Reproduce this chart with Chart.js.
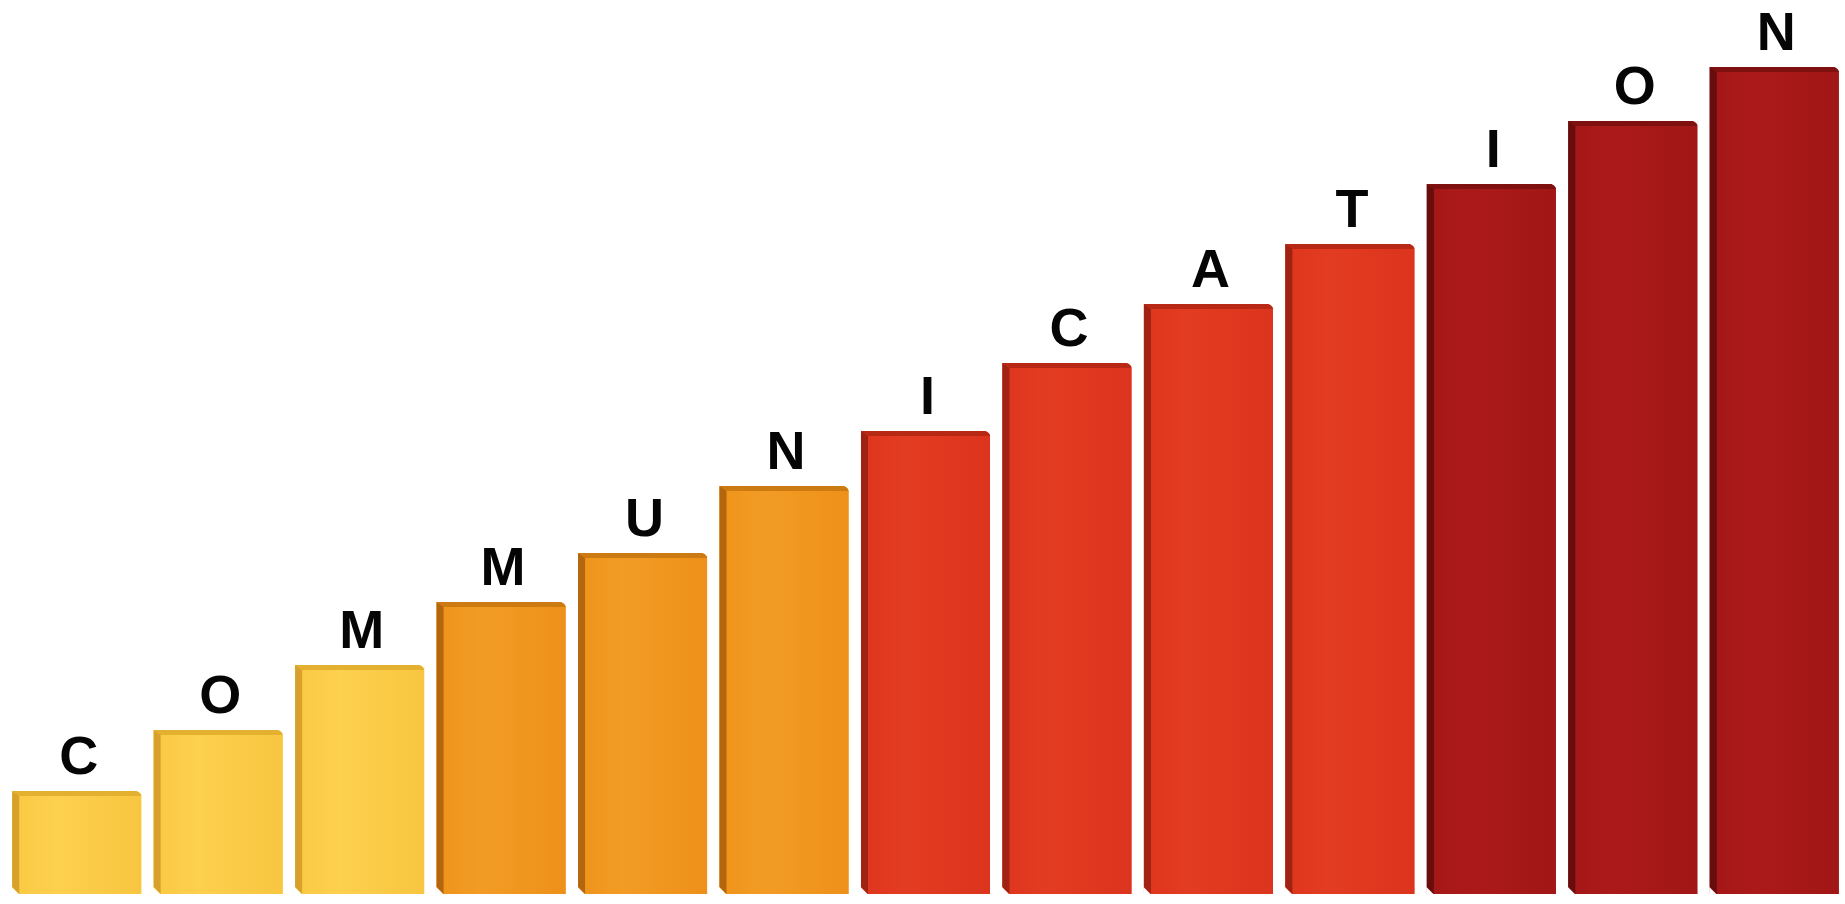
<!DOCTYPE html>
<html>
<head>
<meta charset="utf-8">
<script src="https://cdn.jsdelivr.net/npm/chart.js@4"></script>
<style>
  html, body { margin: 0; padding: 0; background: #ffffff; }
  #wrap { width: 1845px; height: 904px; position: relative; }
</style>
</head>
<body>
<div id="wrap"><canvas id="c" width="1845" height="904"></canvas></div>
<script>
// ---- data ----
const letters = ['C','O','M','M','U','N','I','C','A','T','I','O','N'];
const values  = [103, 164, 229, 292, 341, 408, 463, 531, 590, 650, 710, 773, 827];
const axisMax = 894;

// ---- styles (per colour group) ----
const groupOfBar = [0,0,0,1,1,1,2,2,2,2,3,3,3];
const faceLeft  = ['#FAC943', '#EF931A', '#DE361E', '#A41717'];
const faceMid   = ['#FDD04D', '#F29C25', '#E23C22', '#AB1A19'];
const faceRight = ['#F8C640', '#EE9019', '#DC341D', '#A11616'];
const topEdge   = ['#E4B030', '#CC7A12', '#B82915', '#7E1010'];
const sideEdge  = ['#D8A12B', '#B3660E', '#A02212', '#680D0D'];

const barColors = groupOfBar.map(g => faceMid[g]);

const bevelPlugin = {
  id: 'bevel',
  afterDatasetsDraw(chart) {
    const c = chart.ctx;
    const meta = chart.getDatasetMeta(0);
    meta.data.forEach((el, i) => {
      const g = groupOfBar[i];
      const l = el.x - el.width / 2, r = el.x + el.width / 2;
      const t = el.y, b = el.base;
      if (![l, r, t, b].every(Number.isFinite)) return;
      const s = 7, h = 5;
      c.save();
      // face gradient
      const grad = c.createLinearGradient(l, 0, r, 0);
      grad.addColorStop(0, faceLeft[g]);
      grad.addColorStop(0.35, faceMid[g]);
      grad.addColorStop(1, faceRight[g]);
      c.fillStyle = grad;
      c.fillRect(l, t, r - l, b - t);
      // top strip
      c.fillStyle = topEdge[g];
      c.beginPath();
      c.moveTo(l, t);
      c.lineTo(r - s, t);
      c.quadraticCurveTo(r - 1, t, r, t + h);
      c.lineTo(l + s, t + h);
      c.closePath();
      c.fill();
      // left side strip
      c.fillStyle = sideEdge[g];
      c.beginPath();
      c.moveTo(l, t);
      c.lineTo(l + s, t + h);
      c.lineTo(l + s, b);
      c.lineTo(l, b - s);
      c.closePath();
      c.fill();
      // clear bottom-left corner below slant
      c.fillStyle = '#ffffff';
      c.beginPath();
      c.moveTo(l - 0.5, b - s);
      c.lineTo(l + s, b + 0.5);
      c.lineTo(l - 0.5, b + 0.5);
      c.closePath();
      c.fill();
      // clear top-right corner above slant
      c.beginPath();
      c.moveTo(r - s, t - 0.5);
      c.lineTo(r + 0.5, t - 0.5);
      c.lineTo(r + 0.5, t + h);
      c.quadraticCurveTo(r - 1, t, r - s, t - 0.5);
      c.closePath();
      c.fill();
      c.restore();
    });
  }
};

const letterPlugin = {
  id: 'letters',
  afterDatasetsDraw(chart) {
    const c = chart.ctx;
    const meta = chart.getDatasetMeta(0);
    c.save();
    c.fillStyle = '#050505';
    c.font = 'bold 54px "Liberation Sans", Arial, sans-serif';
    c.textAlign = 'center';
    c.textBaseline = 'alphabetic';
    meta.data.forEach((el, i) => {
      if (!Number.isFinite(el.x) || !Number.isFinite(el.y)) return;
      c.fillText(chart.data.labels[i], el.x + 2, el.y - 17);
    });
    c.restore();
  }
};

new Chart(document.getElementById('c'), {
  type: 'bar',
  data: {
    labels: letters,
    datasets: [{
      data: values,
      backgroundColor: barColors,
      borderWidth: 0,
      barPercentage: 0.955,
      categoryPercentage: 0.955
    }]
  },
  options: {
    responsive: false,
    animation: false,
    layout: { padding: { left: 6, right: 0, top: 0, bottom: 10 } },
    plugins: {
      legend: { display: false },
      tooltip: { enabled: false },
      title: { display: false }
    },
    scales: {
      x: { display: false, grid: { display: false } },
      y: { display: false, min: 0, max: axisMax, grid: { display: false } }
    }
  },
  plugins: [bevelPlugin, letterPlugin]
});
</script>
</body>
</html>
